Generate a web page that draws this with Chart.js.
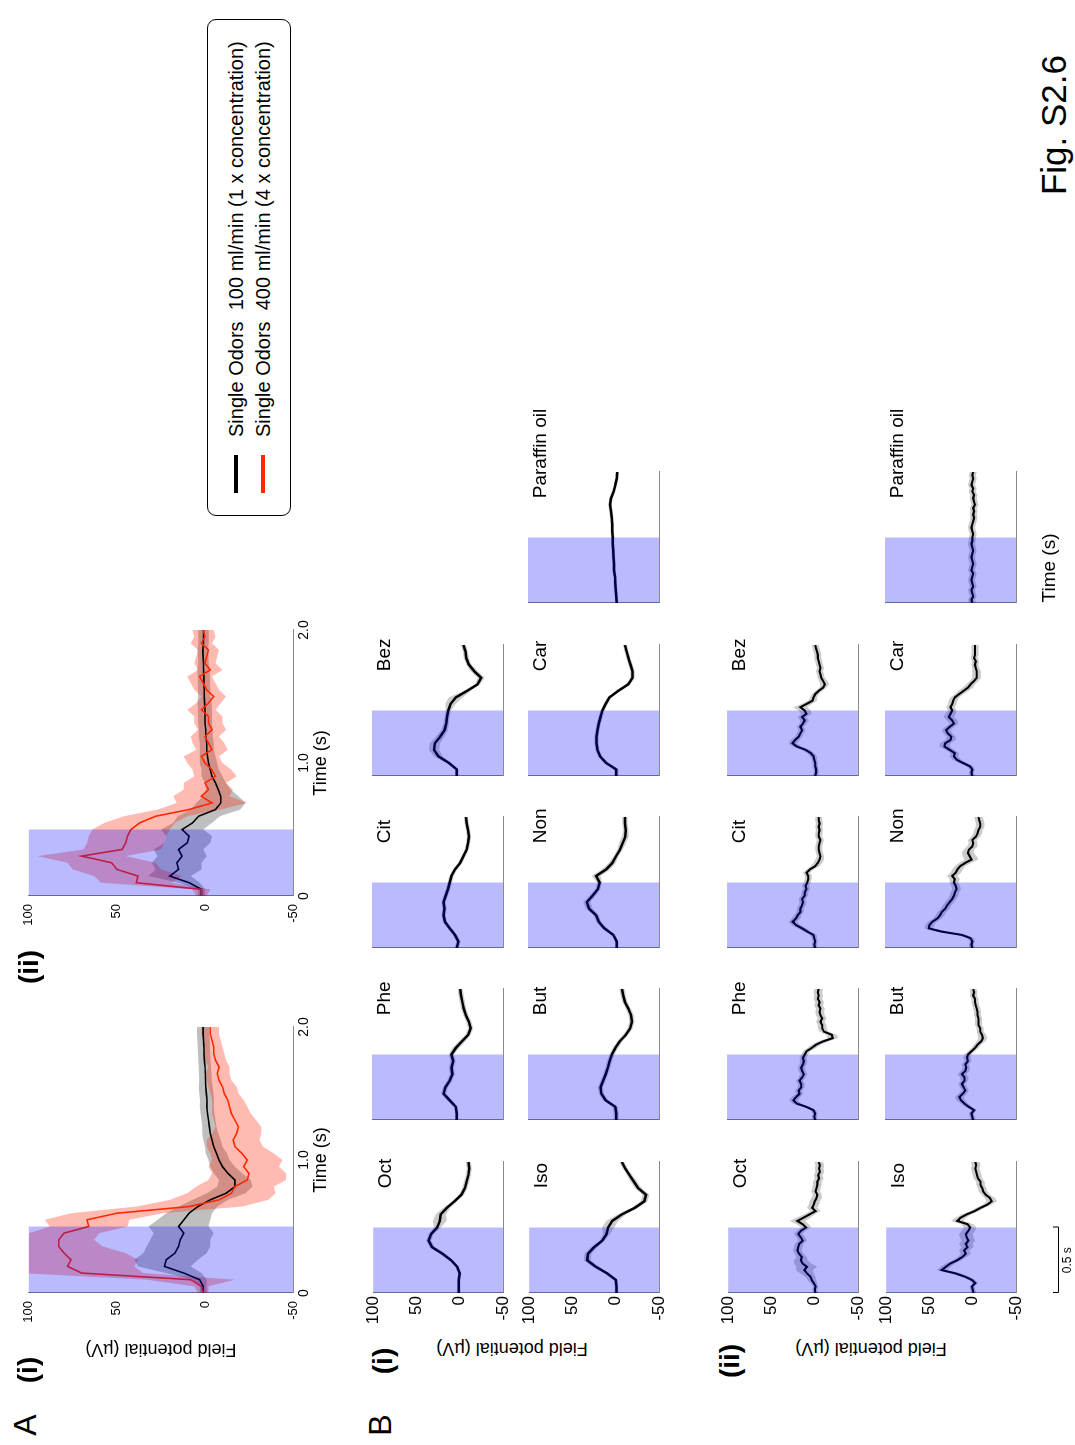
<!DOCTYPE html>
<html>
<head>
<meta charset="utf-8">
<title>Fig. S2.6</title>
<script src="https://cdn.jsdelivr.net/npm/chart.js@4.4.1/dist/chart.umd.min.js"></script>
<style>
  html, body { margin: 0; padding: 0; background: #fff; overflow: hidden; }
  body { width: 1075px; height: 1445px; position: relative; }
  /* landscape page, turned a quarter-turn counter-clockwise onto the portrait sheet */
  #page {
    position: absolute; left: 0; top: 0; width: 1445px; height: 1075px;
    transform-origin: 0 0; transform: translate(0, 1445px) rotate(-90deg);
    font-family: "Liberation Sans", Arial, Helvetica, sans-serif; color: #000;
  }
  #page canvas { position: absolute; }
  .txt { position: absolute; white-space: pre; line-height: 1; }
  .legend {
    position: absolute; box-sizing: border-box; border: 1.5px solid #000; border-radius: 9px;
    background: #fff;
  }
  .legend .swatch { position: absolute; height: 4px; width: 38px; left: 22px; }
  .legend .entry { position: absolute; left: 78px; font-size: 20px; line-height: 20px; white-space: pre; }
</style>
</head>
<body>
<div id="page"></div>
<script>
// ---------- time bases (s) ----------
const tA  = [0,0.05,0.1,0.15,0.2,0.25,0.3,0.35,0.4,0.45,0.5,0.55,0.6,0.65,0.7,0.75,0.8,0.85,0.9,0.95,1.0,
             1.05,1.1,1.15,1.2,1.25,1.3,1.35,1.4,1.45,1.5,1.55,1.6,1.65,1.7,1.75,1.8,1.85,1.9,1.95,2.0];
const tB1 = [0,0.05,0.1,0.15,0.2,0.25,0.3,0.35,0.4,0.45,0.5,0.55,0.6,0.65,0.7,0.75,0.8,0.85,0.9,0.95,1.0];
const tB2 = [0,0.025,0.05,0.075,0.1,0.125,0.15,0.175,0.2,0.225,0.25,0.275,0.3,0.325,0.35,0.375,0.4,0.425,0.45,0.475,0.5,
             0.525,0.55,0.575,0.6,0.625,0.65,0.675,0.7,0.725,0.75,0.775,0.8,0.825,0.85,0.875,0.9,0.925,0.95,0.975,1.0];

const stimWindow = [0, 0.5];        // odor pulse (s)
const valueRange = [-50, 100];      // field potential axis (µV)
const timeTicksA = [0, 1, 2];

// ---------- A(i): single odors, mean ± SEM ----------
const ai_1x     = [1,1,3,12,23,22,17,15,14,12,15,12,9,4,-3,-12,-17,-17,-13,-10,-8,-6.5,-5,-4,-3,-2.5,-2,-1.5,-1,-1.2,-0.8,-0.5,-0.3,-0.2,0,0.3,0.5,0.6,0.8,1,1];
const ai_1x_sem = [2,2,4,10,15,18,18,18,17,17,17,15,13,11,10,11,10,9,8,7,6,6,5,5,4.5,4,4,4,4,4,4,4,3.5,3.5,3.5,3.5,3.5,3.5,3.5,3.5,3.5];
const ai_4x     = [1,2,8,70,78,76,80,83,83,80,66,67,50,9,-8,-15,-17,-24,-25,-22,-24,-21,-17,-16,-18,-19,-17,-15,-14,-13,-11,-10,-8,-7,-8,-6,-5,-5,-4,-3,-3];
const ai_4x_sem = [3,4,25,35,38,38,35,25,20,20,22,24,26,30,28,25,22,22,21,20,20,18,16,15,14,13,12,11,10,9,8,8,7,7,6,6,6,5,5,5,5];

// ---------- A(ii) ----------
const aii_1x     = [2,2,9,20,15,16,13,15,10,9,13,7,3.5,-6,-9,-9,-7.6,-6,-4,-3,-2,-1.5,-1,-1,-0.5,-0.5,0,0,0,0.2,0.4,0.4,0.6,0.6,0.8,0.8,1,1.2,0.8,0.8,0.8];
const aii_1x_sem = [2,2,6,12,13,14,14,14,13,13,12,11,12,14,14,10,7,6,6,5,5,4.5,4,4,4,4,4,4,4,4,3.5,3.5,3.5,3.5,3.5,3,3,3,3,3,3];
const aii_4x     = [2,2,39,38,50,53,70,47,45,44,42,37,28,9,-4,2,-2,0,-6,-4,0,2,-4,-2,0,-4,-2,-2,2,-2,-5,-1,1,3,-3,0,-1,-2,2,0,1];
const aii_4x_sem = [3,5,20,25,25,25,25,22,22,22,22,20,18,18,20,16,14,12,12,11,10,10,9,9,8,8,8,8,8,7,7,7,7,7,7,6,6,6,6,6,6];

// ---------- B(i): individual odors ----------
const oct_i = [1,1,1,0,3,10,20,32,36,33,26,23,22,15,6,-2,-6,-8,-10,-11,-10];
const oct_i_sem = [2,2,2,2,2,2,3,3,3,3,4,8,6,4,3,3,3,3,3,3,3];
const phe_i = [3,3,4,11,18,16,11,8,9,7,9,4,-3,-10,-13,-11,-7.5,-5,-3.5,-2,-1];
const phe_i_sem = [2,2,2,3,3,3,3,3,3,3,3,4,4,3,3,3,3,3,3,3,3];
const cit_i = [3,1,5,11,16.5,18,17,18,15.6,13,11,9,5,-1,-4.6,-8.4,-10,-11,-10,-8.4,-7.5];
const cit_i_sem = [2.5,2.5,2.5,2.5,2.5,2.5,2.5,2.5,2.5,2.5,2.5,2.5,2.5,2.5,2.5,2.5,2.5,2.5,2.5,2.5,2.5];
const bez_i = [3,3,12,24,29,28,22,17,15,14,12.6,10,4,-9,-21,-25,-17,-11,-8,-7,-4.6];
const bez_i_sem = [2,2,3,5,6,6,5,4,3,3,3,6,8,4,3,4,4,3,3,3,3];
const iso_i = [-1,-1,0,10,23,33,32,25,15.6,10.7,8.8,4,-7,-22,-33,-35,-26,-21,-16,-11,-7];
const iso_i_sem = [2,2,2,3,4,4,4,4,3,4,7,7,5,4,4,4,4,4,3,3,3];
const but_i = [-1,-1,0,11,16,17,14,11,8.5,6.5,4,0,-5,-12,-17,-19,-18,-15,-11,-9,-7.5];
const but_i_sem = [3,3,3,3,3,3,3,3,3,3,3,3,3,3,3,3,3,3,3,3,3];
const non_i = [-1.5,-1.5,2.3,12.5,19,22,30,32.6,26,20,18,22,10.6,3.4,-0.8,-5.3,-8.3,-11.4,-12,-11,-11];
const non_i_sem = [2,2,2,3,3,3,4,4,4,3,3,5,5,4,3,3,4,4,3,3,3];
const car_i = [-1,-1,10.6,17.4,20.5,21.6,21.6,20.5,19,17,14.8,11,6.8,-3.4,-14.8,-19.7,-19.7,-17.4,-15,-12.9,-11];
const car_i_sem = [2.5,2.5,2.5,2.5,2.5,2.5,2.5,2.5,2.5,2.5,2.5,2.5,2.5,2.5,2.5,2.5,2.5,2.5,2.5,2.5,2.5];
const par_i = [-1.5,-1,-0.5,0,0.5,1.5,1.5,2,2.5,3,3,3.5,3.5,4,5,6,5,2,0,-1.5,-2.3];
const par_i_sem = [2,2,2,2,2,2,2,2,2,2,2,2,2,2,2,2,2,2,2,2,2];

// ---------- B(ii) ----------
const oct_ii = [-1,0,-1,1,3.5,5,9,12,9,14,16,15,18,20,19,18,14,16,19,16,10,14,20,13,6,-1,3,1,0,-2,-3,-1,-2,-3,-3,-5,-4,-6,-5,-6,-4.5];
const oct_ii_sem = [3,3,3,4,5,6,8,10,12,10,8,6,5,5,5,5,5,5,5,5,6,7,9,8,6,6,6,6,6,6,5,5,5,5,5,5,5,5,5,5,5];
const phe_ii = [-1,0,-1,1,9,20,24,21,17,18,15,15,17,14,12,14,15,13,12,13,11,9,3,-2,-10,-21,-20,-11,-9,-9,-7,-9,-7,-6,-7,-5,-6,-4,-5,-4,-5];
const phe_ii_sem = [3,3,3,3,4,5,5,5,4,4,4,4,4,4,4,4,4,4,4,4,4,4,5,5,6,6,6,5,5,5,5,5,5,5,5,5,5,5,5,5,5];
const cit_ii = [-1,0,-1,0,1,8,14,21,25,21,19,16,16,14,13,14,11,11,9,10,8,7,7,9,5,-1,-4,-6,-7,-6,-5,-5,-6,-7,-5,-5,-6,-5,-6,-5,-5];
const cit_ii_sem = [3,3,3,3,4,4,5,5,5,5,4,4,4,4,4,4,4,4,4,4,4,4,4,4,4,5,5,5,4,4,4,4,4,4,4,4,4,4,4,4,4];
const bez_ii = [-1,-2,-2,-1,-1,0,1,4,10,20,25,22,18,16,14,16,13,11,14,9,11,16,9,2,1,-1,-5,-10,-12,-10,-8,-7,-6,-7,-6,-5,-4,-4,-3,-2,-1];
const bez_ii_sem = [3,3,3,3,3,3,4,4,5,5,5,5,4,4,4,4,4,5,5,6,7,8,6,5,4,4,4,4,5,5,4,4,4,4,4,4,4,4,4,4,4];
const iso_ii = [-1,0,1,-3,1,9,20,36,31,26,18,12,8,10,6,8,5,7,8,5,3,6,18,14,7,-2,-9,-17,-22,-20,-15,-12,-11,-9,-9,-6,-5,-4,-3,-4,-3];
const iso_ii_sem = [3,3,3,3,4,5,6,6,6,5,5,5,6,6,7,8,8,8,8,8,7,7,7,6,6,5,5,5,6,6,5,5,5,5,5,5,5,5,5,5,5];
const but_ii = [-1,0,1,-2,4,9,13,15,11,8,10,12,9,9,12,8,7,8,5,6,5,1,-3,-6,-10,-12,-11,-9,-9,-7,-7,-7,-6,-6,-5,-4,-3,-3,-1,-2,-1];
const but_ii_sem = [3,3,3,3,4,4,5,5,5,4,4,4,4,5,5,5,4,4,4,4,4,4,4,4,5,5,5,4,4,4,4,4,4,4,4,4,4,4,4,4,4];
const non_ii = [0,1,0,2,12,35,50,49,46,40,37,35,31,29,26,23,21,20,18,19,21,20,23,19,17,14,8,1,3,5,4,0,-1,0,-4,-6,-7,-9,-9,-8,-7];
const non_ii_sem = [3,3,3,4,6,6,5,5,5,5,5,5,5,5,5,5,5,5,5,5,5,6,6,6,6,6,7,8,8,7,6,6,5,5,5,5,5,5,5,5,5];
const car_ii = [0,1,0,3,11,18,21,20,26,32,31,25,24,28,30,26,21,23,27,25,23,25,23,22,20,15,10,5,2,-2,-5,-5,-5,-4,-3,-4,-2,-3,-3,-3,-3];
const car_ii_sem = [3,3,3,4,5,5,5,5,5,6,6,6,5,5,5,5,5,6,6,6,5,5,5,5,5,5,6,6,5,5,5,5,5,4,4,4,4,4,4,4,4];
const par_ii = [0,1,-1,0,1,-1,0,1,0,-1,1,0,-1,0,1,0,-1,0,1,0,0,-1,0,1,0,-1,-2,-1,-2,-1,-3,-2,-1,-2,0,-1,1,0,-1,0,-1];
const par_ii_sem = [4,4,4,4,4,4,4,4,4,4,4,4,4,4,4,4,4,4,4,4,4,4,4,4,4,4,4,4,4,4,4,4,4,4,4,4,4,4,4,4,4];

// odor names, laid out as two rows of small panels
const odorRow1 = ['Oct', 'Phe', 'Cit', 'Bez'];
const odorRow2 = ['Iso', 'But', 'Non', 'Car', 'Paraffin oil'];

// ---------- drawing helpers ----------
Chart.defaults.font.family = '"Liberation Sans", Arial, Helvetica, sans-serif';
Chart.defaults.color = '#000';

const page = document.getElementById('page');
const AXIS = '#8a8a8a';
const RED = 'rgb(255,40,0)';
const STIM_FILL = 'rgba(0,0,255,0.27)';

function addText(text, cx, cy, size, weight, rot) {
  const d = document.createElement('div');
  d.className = 'txt';
  d.textContent = text;
  d.style.fontSize = size + 'px';
  d.style.fontWeight = weight || 'normal';
  d.style.left = cx + 'px';
  d.style.top = cy + 'px';
  d.style.transform = 'translate(-50%,-50%)' + (rot ? ' rotate(' + rot + 'deg)' : '');
  page.appendChild(d);
  return d;
}

function pts(t, v) { return t.map((x, i) => ({ x: x, y: v[i] })); }

function bandSets(t, mean, sem, color, order) {
  return [
    { data: t.map((x, i) => ({ x: x, y: mean[i] + sem[i] })), borderWidth: 0, pointRadius: 0, fill: false, order: order },
    { data: t.map((x, i) => ({ x: x, y: mean[i] - sem[i] })), borderWidth: 0, pointRadius: 0, fill: '-1',
      backgroundColor: color, order: order }
  ];
}

function lineSet(t, mean, color, width, order) {
  return { data: pts(t, mean), borderColor: color, borderWidth: width, pointRadius: 0, fill: false,
           tension: 0, order: order };
}

// blue overlay marking the odor pulse, laid on top of the traces
const stimPlugin = {
  id: 'stimulus',
  afterDatasetsDraw(chart) {
    const { ctx, scales: { x, y } } = chart;
    const x0 = x.getPixelForValue(stimWindow[0]), x1 = x.getPixelForValue(stimWindow[1]);
    const y0 = y.getPixelForValue(valueRange[1]), y1 = y.getPixelForValue(valueRange[0]);
    ctx.save();
    ctx.fillStyle = STIM_FILL;
    ctx.fillRect(x0, y0, x1 - x0, y1 - y0);
    ctx.restore();
  }
};

function nameLabel(name) {
  return {
    id: 'odorName',
    afterDraw(chart) {
      const { ctx, chartArea, scales: { x } } = chart;
      ctx.save();
      ctx.font = '19px "Liberation Sans", Arial, sans-serif';
      ctx.fillStyle = '#000';
      ctx.textAlign = 'left';
      ctx.textBaseline = 'alphabetic';
      ctx.fillText(name, x.getPixelForValue(0.8), chartArea.top + 18);
      ctx.restore();
    }
  };
}

// 0.5 s scale bar under a panel, measured on that panel's time axis
const scaleBarPlugin = {
  id: 'scaleBar',
  afterDraw(chart) {
    const { ctx, chartArea, scales: { x } } = chart;
    const x0 = x.getPixelForValue(stimWindow[0]), x1 = x.getPixelForValue(stimWindow[1]);
    const yb = chartArea.bottom + 42;
    ctx.save();
    ctx.strokeStyle = '#000';
    ctx.lineWidth = 1;
    ctx.beginPath();
    ctx.moveTo(x0 + 0.5, yb - 5); ctx.lineTo(x0 + 0.5, yb + 0.5);
    ctx.lineTo(x1 + 0.5, yb + 0.5); ctx.lineTo(x1 + 0.5, yb - 5);
    ctx.stroke();
    ctx.font = '12px "Liberation Sans", Arial, sans-serif';
    ctx.fillStyle = '#000';
    ctx.textAlign = 'center';
    ctx.textBaseline = 'middle';
    ctx.fillText('0.5 s', (x0 + x1) / 2, yb + 10);
    ctx.restore();
  }
};

function makeChart(cfg) {
  const { area, yW, xH, pad } = cfg;
  const W = area.w + yW + pad.l + pad.r;
  const H = area.h + xH + pad.t + pad.b;
  const c = document.createElement('canvas');
  c.width = W; c.height = H;
  c.style.left = (area.x - yW - pad.l) + 'px';
  c.style.top = (area.y - pad.t) + 'px';
  c.style.width = W + 'px'; c.style.height = H + 'px';
  page.appendChild(c);
  return new Chart(c, {
    type: 'line',
    data: { datasets: cfg.datasets },
    options: {
      responsive: false, animation: false, events: [],
      layout: { padding: { left: pad.l, right: pad.r, top: pad.t, bottom: pad.b } },
      plugins: { legend: { display: false }, tooltip: { enabled: false } },
      scales: { x: cfg.x, y: cfg.y }
    },
    plugins: cfg.plugins
  });
}

function valueAxis(showTicks, size, padding, title, width) {
  return {
    type: 'linear', min: valueRange[0], max: valueRange[1],
    ticks: { display: showTicks, stepSize: 50, autoSkip: false, font: { size: size }, padding: padding },
    grid: { display: false, drawTicks: false },
    border: { display: true, color: AXIS, width: 1 },
    title: { display: !!title, text: title || '', font: { size: 18 }, padding: 0 },
    afterFit(s) { s.width = width; }
  };
}

// ---------- panel A ----------
function panelA(x, mean1, sem1, mean4, sem4, withTitle) {
  makeChart({
    area: { x: x, y: 23, w: 266, h: 270 }, yW: 67, xH: 39, pad: { l: 0, r: 15, t: 10, b: 0 },
    datasets: [
      ...bandSets(tA, mean1, sem1, 'rgba(0,0,0,0.25)', 4),
      ...bandSets(tA, mean4, sem4, 'rgba(255,30,0,0.3)', 3),
      lineSet(tA, mean1, '#000', 1.6, 2),
      lineSet(tA, mean4, RED, 1.6, 1)
    ],
    x: {
      type: 'linear', min: timeTicksA[0], max: timeTicksA[timeTicksA.length - 1],
      ticks: { stepSize: 1, autoSkip: false, maxRotation: 0, font: { size: 14 }, padding: 3,
               callback: v => (v === 0 ? '0' : v.toFixed(1)) },
      grid: { display: false, drawTicks: false },
      border: { display: true, color: AXIS, width: 1 },
      title: { display: true, text: 'Time (s)', font: { size: 18 }, padding: 0 },
      afterFit(s) { s.height = 39; }
    },
    y: valueAxis(true, 13, 8, withTitle ? 'Field potential (µV)' : '', 67),
    plugins: [stimPlugin]
  });
}
panelA(152, ai_1x, ai_1x_sem, ai_4x, ai_4x_sem, true);
panelA(549, aii_1x, aii_1x_sem, aii_4x, aii_4x_sem, false);

// ---------- panel B ----------
const colX = [152, 325, 497, 669, 842];
const traces = {
  i: {
    t: tB1, width: 2.5, rows: [372, 528],
    Oct: [oct_i, oct_i_sem], Phe: [phe_i, phe_i_sem], Cit: [cit_i, cit_i_sem], Bez: [bez_i, bez_i_sem],
    Iso: [iso_i, iso_i_sem], But: [but_i, but_i_sem], Non: [non_i, non_i_sem], Car: [car_i, car_i_sem],
    'Paraffin oil': [par_i, par_i_sem]
  },
  ii: {
    t: tB2, width: 2.1, rows: [727, 885],
    Oct: [oct_ii, oct_ii_sem], Phe: [phe_ii, phe_ii_sem], Cit: [cit_ii, cit_ii_sem], Bez: [bez_ii, bez_ii_sem],
    Iso: [iso_ii, iso_ii_sem], But: [but_ii, but_ii_sem], Non: [non_ii, non_ii_sem], Car: [car_ii, car_ii_sem],
    'Paraffin oil': [par_ii, par_ii_sem]
  }
};

['i', 'ii'].forEach(g => {
  const set = traces[g];
  [odorRow1, odorRow2].forEach((names, r) => {
    names.forEach((name, c) => {
      const [mean, sem] = set[name];
      const withBar = (g === 'ii' && r === 1 && c === 0);
      const yW = c === 0 ? 40 : 2;
      const plugins = [stimPlugin, nameLabel(name)];
      if (withBar) plugins.push(scaleBarPlugin);
      makeChart({
        area: { x: colX[c], y: set.rows[r], w: 131, h: 131 }, yW: yW, xH: 2,
        pad: { l: 0, r: 80, t: 12, b: withBar ? 57 : 12 },
        datasets: [
          ...bandSets(set.t, mean, sem, 'rgba(0,0,0,0.2)', 2),
          lineSet(set.t, mean, '#000', set.width, 1)
        ],
        x: {
          type: 'linear', min: 0, max: 1,
          ticks: { display: false }, grid: { display: false, drawTicks: false },
          border: { display: true, color: AXIS, width: 1 },
          afterFit(s) { s.height = 2; }
        },
        y: valueAxis(c === 0, 17, 3, '', yW),
        plugins: plugins
      });
    });
  });
});

// ---------- labels ----------
addText('A', 20, 25, 32, 'normal');
addText('(i)', 75, 28, 28, 'bold');
addText('(ii)', 478, 29, 28, 'bold');
addText('B', 20, 380, 32, 'normal');
addText('(i)', 84, 383, 28, 'bold');
addText('(ii)', 84, 730, 28, 'bold');
addText('Field potential (µV)', 96, 512, 18, 'normal', -90);
addText('Field potential (µV)', 96, 871, 18, 'normal', -90);
addText('Time (s)', 877, 1048, 19, 'normal');
addText('Fig. S2.6', 1320, 1053, 35, 'normal');

// ---------- legend ----------
const legendItems = [
  { color: '#000', text: 'Single Odors  100 ml/min (1 x concentration)' },
  { color: RED,    text: 'Single Odors  400 ml/min (4 x concentration)' }
];
const lg = document.createElement('div');
lg.className = 'legend';
lg.style.left = '929px'; lg.style.top = '207px'; lg.style.width = '497px'; lg.style.height = '84px';
legendItems.forEach((it, k) => {
  const sw = document.createElement('div');
  sw.className = 'swatch';
  sw.style.background = it.color;
  sw.style.top = (26 + 27 * k) + 'px';
  lg.appendChild(sw);
  const tx = document.createElement('div');
  tx.className = 'entry';
  tx.textContent = it.text;
  tx.style.top = (18 + 27 * k) + 'px';
  lg.appendChild(tx);
});
page.appendChild(lg);
</script>
</body>
</html>
